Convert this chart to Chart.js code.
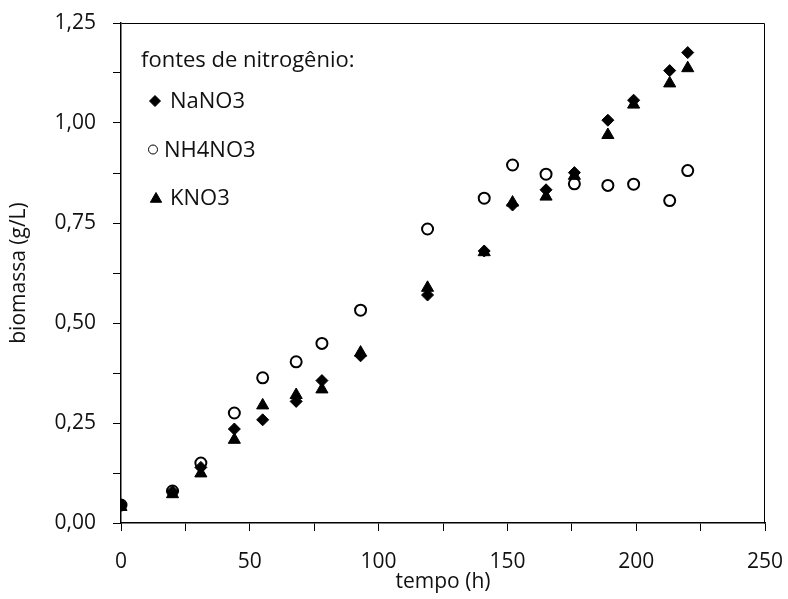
<!DOCTYPE html>
<html>
<head>
<meta charset="utf-8">
<script src="https://cdn.jsdelivr.net/npm/chart.js@4.4.0/dist/chart.umd.min.js"></script>
<style>
html,body{margin:0;padding:0;background:#fff;}
#c{display:block;}
</style>
</head>
<body>
<canvas id="c" width="788" height="599"></canvas>
<script>
// ---- data ----
const tempo  = [0, 20, 31, 44, 55, 68, 78, 93, 119, 141, 152, 165, 176, 189, 199, 213, 220];
const naNO3  = [0.045, 0.078, 0.139, 0.235, 0.258, 0.304, 0.356, 0.418, 0.570, 0.680, 0.795, 0.833, 0.876, 1.007, 1.057, 1.131, 1.176];
const nh4NO3 = [0.045, 0.080, 0.150, 0.275, 0.363, 0.403, 0.449, 0.532, 0.735, 0.812, 0.895, 0.872, 0.848, 0.844, 0.847, 0.806, 0.881];
const kNO3   = [0.040, 0.072, 0.124, 0.208, 0.294, 0.320, 0.334, 0.426, 0.588, 0.677, 0.801, 0.816, 0.868, 0.970, 1.046, 1.099, 1.137];
const seriesNames = ['NaNO3', 'NH4NO3', 'KNO3'];
const legendTitle = 'fontes de nitrogênio:';
const xTickLabels = ['0', '50', '100', '150', '200', '250'];
const yTickLabels = ['0,00', '0,25', '0,50', '0,75', '1,00', '1,25'];
const xTitle = 'tempo (h)';
const yTitle = 'biomassa (g/L)';

const FONT = '"Open Sans", "Noto Sans", sans-serif';
const TXT = '#111';

function pts(ys) { return tempo.map((t, i) => ({ x: t, y: ys[i] })); }
function zeroPad(s) { s.paddingTop = 0; s.paddingBottom = 0; s.paddingLeft = 0; s.paddingRight = 0; }

const framePlugin = {
  id: 'frame',
  afterDraw(chart) {
    const { ctx, chartArea: a } = chart;
    ctx.save();
    ctx.strokeStyle = '#000';
    ctx.lineWidth = 1;
    ctx.beginPath();
    ctx.moveTo(Math.round(a.left) + 0.5, Math.round(a.top) + 0.5);
    ctx.lineTo(Math.round(a.right) - 0.5, Math.round(a.top) + 0.5);
    ctx.lineTo(Math.round(a.right) - 0.5, Math.round(a.bottom) + 0.5);
    ctx.stroke();
    ctx.restore();
  }
};

const legendPlugin = {
  id: 'innerLegend',
  afterDraw(chart) {
    const ctx = chart.ctx;
    ctx.save();
    ctx.font = '22px ' + FONT;
    ctx.fillStyle = TXT;
    ctx.textAlign = 'left';
    ctx.textBaseline = 'alphabetic';
    ctx.fillText(legendTitle, 141, 67);
    const rowBase = [108, 156.5, 205];
    const textX = [170, 164, 170];
    chart.data.datasets.forEach((ds, i) => {
      const y = rowBase[i];
      ctx.save();
      if (ds.pointStyle === 'circle') {
        ctx.fillStyle = '#fff'; ctx.strokeStyle = '#000';
        Chart.helpers.drawPoint(ctx, { pointStyle: 'circle', radius: 4.5, borderWidth: 1.2, rotation: 0 }, 153, y - 7);
      } else if (ds.pointStyle === 'triangle') {
        ctx.fillStyle = '#000'; ctx.strokeStyle = '#000';
        Chart.helpers.drawPoint(ctx, { pointStyle: 'triangle', radius: 6.5, borderWidth: 0.5, rotation: 0 }, 156, y - 6);
      } else {
        ctx.fillStyle = '#000'; ctx.strokeStyle = '#000';
        Chart.helpers.drawPoint(ctx, { pointStyle: 'rectRot', radius: 5.5, borderWidth: 0.5, rotation: 0 }, 155, y - 7);
      }
      ctx.restore();
      ctx.fillText(ds.label, textX[i], y);
    });
    ctx.restore();
  }
};

new Chart(document.getElementById('c'), {
  type: 'scatter',
  data: {
    datasets: [
      { label: seriesNames[0], data: pts(naNO3), pointStyle: 'rectRot', pointRadius: 6, pointHoverRadius: 6,
        backgroundColor: '#000', borderColor: '#000', borderWidth: 1, order: 1 },
      { label: seriesNames[1], data: pts(nh4NO3), pointStyle: 'circle', pointRadius: 5.5, pointHoverRadius: 5.5,
        backgroundColor: '#fff', borderColor: '#000', borderWidth: 2, order: 3 },
      { label: seriesNames[2], data: pts(kNO3), pointStyle: 'triangle', pointRadius: 7, pointHoverRadius: 7,
        backgroundColor: '#000', borderColor: '#000', borderWidth: 1, order: 2 }
    ]
  },
  options: {
    responsive: false,
    animation: false,
    layout: { padding: { left: 0, right: 23, top: 23, bottom: 0 } },
    plugins: { legend: { display: false }, tooltip: { enabled: false } },
    scales: {
      x: {
        type: 'linear', min: 0, max: 250,
        afterFit(s) { s.height = 76; zeroPad(s); },
        ticks: {
          stepSize: 25, autoSkip: false, maxRotation: 0, padding: 18,
          color: TXT, font: { family: FONT, size: 21 },
          callback: (v, i) => (i % 2 === 0 ? xTickLabels[i / 2] : '')
        },
        grid: { drawOnChartArea: false, drawTicks: true, tickLength: 8, color: '#000', lineWidth: 1 },
        border: { display: true, color: '#000', width: 1.5 },
        title: { display: true, text: xTitle, color: TXT, font: { family: FONT, size: 21 }, padding: { top: 0, bottom: 4 } }
      },
      y: {
        type: 'linear', min: 0, max: 1.25,
        afterFit(s) { s.width = 121; zeroPad(s); },
        ticks: {
          stepSize: 0.125, autoSkip: false, padding: 17,
          color: TXT, font: { family: FONT, size: 21 },
          callback: (v, i) => (i % 2 === 0 ? yTickLabels[i / 2] : '')
        },
        grid: { drawOnChartArea: false, drawTicks: true, tickLength: 8, color: '#000', lineWidth: 1 },
        border: { display: true, color: '#000', width: 1.5 },
        title: { display: true, text: yTitle, color: TXT, font: { family: FONT, size: 21 }, padding: { top: 6, bottom: 0 } }
      }
    }
  },
  plugins: [framePlugin, legendPlugin]
});
</script>
</body>
</html>
